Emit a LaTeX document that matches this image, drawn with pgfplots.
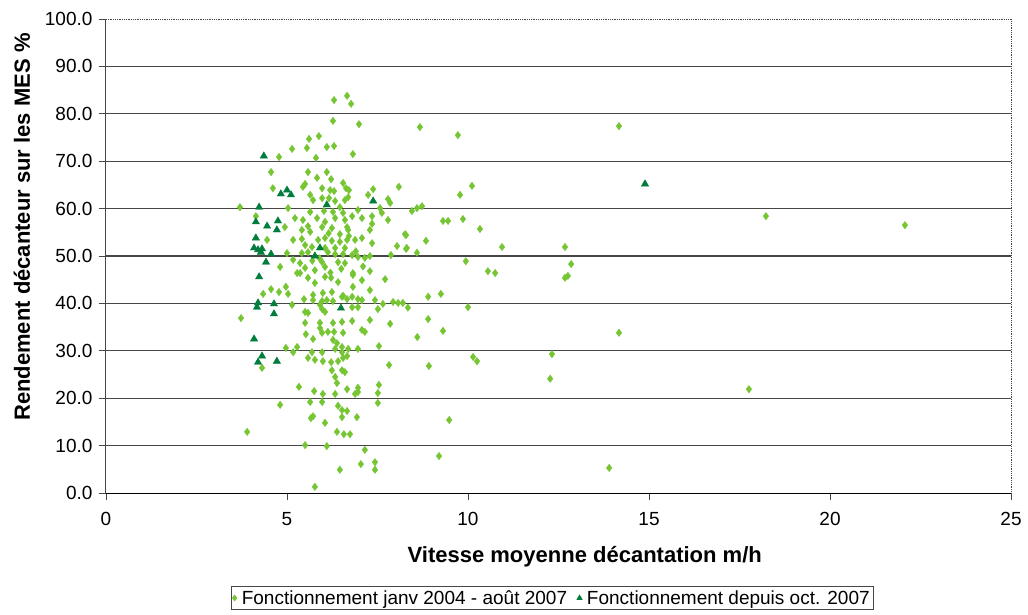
\documentclass[border=0pt]{standalone}
\usepackage{fontspec}
\setmainfont{Liberation Sans}
\usepackage{pgfplots}
\pgfplotsset{compat=1.18}
\definecolor{lgreen}{RGB}{118,198,52}
\definecolor{dgreen}{RGB}{0,125,60}
\definecolor{gridc}{RGB}{70,70,70}
\begin{document}
\begin{tikzpicture}
\useasboundingbox (-106pt,-121pt) rectangle (922pt,493pt);
\begin{axis}[
  at={(0,0)}, anchor=south west,
  width=905pt, height=474pt, scale only axis,
  xmin=0, xmax=25, ymin=0, ymax=100,
  xtick={0,5,10,15,20,25}, ytick={0,10,...,100},
  axis x line*=bottom, axis y line*=left,
  x axis line style={draw=black, line width=1pt, -},
  y axis line style={draw=gridc, line width=1pt, -},
  tick align=outside, major tick length=7pt,
  tick style={draw=gridc, line width=0.9pt},
  extra y ticks={10,20,...,90}, extra y tick labels={},
  extra y tick style={ymajorgrids=true, major tick length=0pt},
  major grid style={draw=gridc, line width=1.2pt},
  /pgf/number format/assume math mode=true,
  yticklabel style={/pgf/number format/.cd, fixed, fixed zerofill, precision=1, /tikz/.cd, font=\fontsize{19}{22}\selectfont, xshift=-3pt},
  xticklabel style={font=\fontsize{19}{22}\selectfont, yshift=-9pt},
  xlabel={Vitesse moyenne décantation m/h},
  ylabel={Rendement décanteur sur les MES \%},
  xlabel style={font=\bfseries\fontsize{22}{24}\selectfont, at={(axis description cs:0.529,-0.135)}, anchor=center},
  ylabel style={font=\bfseries\fontsize{22}{24}\selectfont, at={(axis description cs:-0.0928,0.561)}, anchor=center},
  legend style={at={(axis description cs:0.493,-0.2215)}, anchor=center, legend columns=2, draw=gridc, line width=0.8pt, font=\fontsize{19}{22}\selectfont, inner sep=1.5pt, /tikz/every even column/.append style={column sep=8pt}, /tikz/every odd column/.append style={column sep=3pt}},
  legend image post style={mark size=2.8pt},
  legend cell align=left,
  clip=false,
]
\addplot[only marks, mark=diamond*, mark size=3.7pt, color=lgreen, mark options={draw=lgreen, fill=lgreen}] table {
x y
6.30 82.9
6.66 83.8
6.77 82.1
6.27 78.5
6.99 77.8
8.67 77.2
5.88 75.3
5.61 74.7
5.14 72.6
5.55 72.8
6.10 73.0
6.30 73.2
6.82 71.5
4.78 70.9
5.80 70.7
4.56 67.7
5.58 67.7
6.10 67.7
5.83 66.5
6.22 66.2
5.44 64.6
5.50 65.2
4.61 64.3
5.97 64.3
6.19 63.9
6.30 63.7
6.55 65.4
6.63 64.3
6.71 63.9
7.38 64.1
7.24 62.9
8.09 64.6
5.64 62.9
5.72 61.8
5.97 62.2
6.16 62.2
6.33 61.6
6.60 61.8
6.69 62.4
7.79 62.0
7.85 61.2
3.70 60.3
5.03 60.1
6.46 60.3
7.57 60.1
8.45 59.5
8.59 60.1
8.73 60.5
6.96 59.7
5.64 59.3
6.02 59.5
6.27 59.3
6.55 59.1
6.80 58.4
7.35 58.4
7.62 59.1
4.14 58.4
5.22 58.0
5.44 57.6
5.83 58.0
6.05 57.2
6.33 58.0
6.60 57.6
7.07 58.0
7.79 57.6
4.94 56.1
5.58 56.3
5.97 56.1
6.24 55.9
6.66 56.1
6.69 55.5
7.29 55.5
5.41 55.5
5.64 55.1
6.46 54.6
6.71 54.2
7.35 56.8
8.26 54.6
4.45 53.4
5.17 53.4
5.41 53.6
5.86 53.4
6.05 53.8
6.24 53.2
6.46 53.0
6.66 53.4
6.88 53.4
7.07 53.8
7.35 52.7
8.04 52.1
8.31 51.7
5.50 52.3
5.69 51.9
6.05 51.7
6.33 51.7
6.60 51.7
5.00 50.6
5.41 50.6
5.58 50.8
6.13 50.8
6.33 50.4
6.55 50.4
6.80 50.2
6.96 49.8
7.15 49.6
7.29 50.0
7.87 50.2
8.59 50.7
4.81 47.7
5.17 49.2
5.36 48.5
5.97 48.7
6.05 47.7
6.41 48.7
6.60 48.5
6.82 46.4
7.29 46.8
5.50 47.5
5.77 47.0
6.15 54.8
5.90 49.5
6.50 47.3
6.20 46.5
5.70 49.0
6.90 51.0
7.10 47.8
5.28 46.4
5.36 46.4
5.58 45.4
5.77 44.3
6.05 45.6
6.22 45.4
6.41 44.5
6.82 46.0
6.82 43.5
7.07 44.9
7.29 42.8
7.71 45.1
4.56 43.0
4.78 42.4
4.97 43.5
5.03 42.0
4.34 42.0
5.72 41.8
5.99 42.2
6.24 42.4
6.55 41.6
6.80 41.4
5.47 40.9
5.72 40.7
5.97 40.5
6.10 40.7
6.27 40.5
6.52 41.4
6.66 40.9
6.96 40.9
7.07 40.7
7.43 40.7
7.65 39.9
7.93 40.3
8.07 40.1
8.20 40.1
8.34 39.1
8.60 32.9
5.14 39.7
3.73 36.9
5.50 38.2
5.58 38.0
5.91 39.7
5.97 38.8
6.05 38.2
6.80 39.2
6.96 39.2
7.51 38.8
5.50 35.9
5.91 35.9
6.27 35.9
6.52 36.1
6.80 36.3
7.29 36.5
7.85 35.7
5.91 34.8
6.13 34.0
6.30 34.0
6.55 33.8
7.07 34.4
7.15 34.0
5.52 33.5
5.97 33.8
5.72 32.5
6.27 32.3
6.38 31.6
6.52 30.8
4.97 30.6
5.28 30.8
6.69 30.4
6.96 30.4
7.54 31.0
5.17 29.7
5.69 29.7
5.97 29.7
6.33 30.4
6.52 29.7
4.31 26.4
5.58 28.5
5.77 28.1
5.99 27.8
6.22 27.6
6.41 27.8
6.55 28.5
6.66 28.9
7.82 27.0
6.24 25.9
6.52 25.9
6.60 25.5
6.33 24.5
6.38 23.2
5.33 22.4
5.75 21.5
5.99 20.9
6.33 20.9
6.66 21.9
6.96 22.2
6.96 21.3
6.88 20.9
7.54 22.8
7.51 21.1
5.64 19.2
5.97 19.2
4.81 18.6
6.41 18.4
6.52 17.5
6.66 17.3
7.51 19.0
5.72 16.2
5.66 15.8
6.52 16.0
6.93 16.0
6.05 14.8
3.90 12.9
6.38 12.9
6.57 12.4
6.74 12.4
5.50 10.1
6.10 9.9
7.15 9.1
7.43 6.5
7.04 6.1
6.46 4.9
7.43 4.9
5.77 1.3
9.72 75.5
14.17 77.4
10.11 64.8
9.78 62.9
9.31 57.4
9.45 57.4
9.86 57.8
10.33 55.7
8.29 54.4
8.84 53.2
8.29 51.5
10.94 51.9
12.68 51.9
9.94 48.9
12.85 48.3
10.55 46.8
10.75 46.4
12.68 45.4
12.76 45.8
8.90 41.4
9.25 42.0
10.00 39.2
8.90 36.7
9.31 34.2
14.17 33.8
12.32 29.3
10.14 28.7
10.25 27.8
8.92 26.8
12.27 24.1
9.48 15.4
9.20 7.8
13.90 5.3
18.23 58.4
22.07 56.5
17.76 21.9
};
\addlegendentry{Fonctionnement janv 2004 - août 2007}
\addplot[only marks, mark=triangle*, mark size=4.2pt, color=dgreen, mark options={draw=dgreen, fill=dgreen}] table {
x y
4.36 71.1
5.00 63.9
4.83 63.1
5.11 62.9
4.23 60.3
6.10 60.8
7.38 61.6
4.14 57.2
4.75 57.4
4.45 56.3
4.72 55.5
4.14 53.8
4.09 51.7
4.20 51.3
4.31 51.5
4.28 50.8
5.91 51.7
5.77 50.0
4.56 50.4
4.42 48.7
4.23 45.6
4.20 40.1
4.17 39.2
4.64 39.9
4.64 37.8
6.49 39.0
4.09 32.5
4.31 28.9
4.20 27.6
4.72 27.8
14.89 65.2
};
\addlegendentry{Fonctionnement depuis oct. 2007}
\draw[gridc, densely dotted, line width=0.8pt] (rel axis cs:0,1) -- (rel axis cs:1,1) -- (rel axis cs:1,0);
\end{axis}
\end{tikzpicture}
\end{document}
